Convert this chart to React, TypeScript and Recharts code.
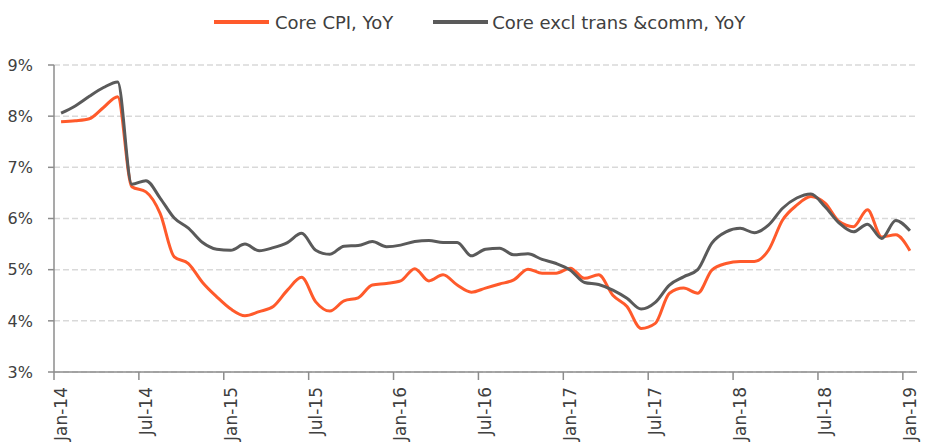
import React from "react";
import { LineChart, Line, XAxis, YAxis, CartesianGrid, Legend } from "recharts";

// monthly, Jan-14 .. Jan-19
const coreCpi = [
  7.89, 7.91, 7.95, 8.17, 8.38, 6.62, 6.52, 6.1, 5.25, 5.12,
  4.75, 4.47, 4.23, 4.1, 4.18, 4.28, 4.6, 4.85, 4.37, 4.19,
  4.39, 4.45, 4.7, 4.73, 4.78, 5.02, 4.78, 4.9, 4.7, 4.56,
  4.64, 4.72, 4.8, 5.01, 4.93, 4.93, 5.03, 4.83, 4.9, 4.5,
  4.28, 3.85, 3.95, 4.54, 4.64, 4.54, 4.99, 5.12, 5.16, 5.16,
  5.38, 5.97, 6.26, 6.43, 6.3, 5.94, 5.84, 6.17, 5.64, 5.68,
  5.37,
];
const coreExTransComm = [
  8.06, 8.2, 8.39, 8.56, 8.67, 6.67, 6.74, 6.4, 6.01, 5.81,
  5.53, 5.4, 5.38, 5.5, 5.37, 5.43, 5.53, 5.71, 5.38, 5.3,
  5.46, 5.47, 5.55, 5.45, 5.48, 5.55, 5.57, 5.53, 5.53, 5.27,
  5.4, 5.42, 5.29, 5.31, 5.2, 5.12, 4.99, 4.75, 4.71, 4.6,
  4.44, 4.23, 4.36, 4.7, 4.86, 5.0, 5.52, 5.74, 5.81, 5.72,
  5.87, 6.2, 6.4, 6.48, 6.23, 5.91, 5.74, 5.89, 5.61, 5.96,
  5.76,
];
const tickLabels = [
  "Jan-14", "Jul-14", "Jan-15", "Jul-15", "Jan-16", "Jul-16",
  "Jan-17", "Jul-17", "Jan-18", "Jul-18", "Jan-19",
];
const yTicks = [3, 4, 5, 6, 7, 8, 9];

const ORANGE = "#FF5A2B";
const GREY = "#5A5A5A";
const FONT = "DejaVu Sans";

// each month sits in the middle of its slot, ticks on slot boundaries
const data = coreCpi.map((v, i) => ({
  t: i + 0.5,
  cpi: v,
  ex: coreExTransComm[i],
}));
const xTicks = tickLabels.map((_, i) => i * 6);

const XTick = (props: any) => {
  const { x, y, payload } = props;
  return (
    <g transform={`translate(${x + 7},${y + 2})`}>
      <text
        transform="rotate(-90)"
        textAnchor="end"
        dy="0.35em"
        fontSize={17}
        fontFamily={FONT}
        fill="#404040"
      >
        {tickLabels[payload.value / 6]}
      </text>
    </g>
  );
};

const LegendBox = () => (
  <div
    style={{
      display: "flex",
      alignItems: "center",
      paddingLeft: 214,
      height: 44,
      fontFamily: FONT,
      fontSize: 18,
      color: "#404040",
      whiteSpace: "nowrap",
    }}
  >
    <span style={{ width: 55, height: 4, background: ORANGE, marginRight: 6 }} />
    <span style={{ marginRight: 40 }}>Core CPI, YoY</span>
    <span style={{ width: 55, height: 4, background: GREY, marginRight: 4 }} />
    <span>Core excl trans &amp;comm, YoY</span>
  </div>
);

export default function App() {
  return (
    <div style={{ position: "absolute", left: 0, top: 0 }}>
      <LineChart
        width={930}
        height={445}
        data={data}
        margin={{ top: 0, right: 13, bottom: 0, left: 0 }}
      >
        <Legend
          verticalAlign="top"
          content={() => <LegendBox />}
          wrapperStyle={{ height: 65 }}
        />
        <CartesianGrid
          vertical={false}
          stroke="#D9D9D9"
          strokeDasharray="6 3"
          strokeWidth={1.5}
        />
        <XAxis
          type="number"
          dataKey="t"
          domain={[0, 61]}
          ticks={xTicks}
          interval={0}
          height={73}
          tickSize={8}
          tickMargin={5}
          stroke="#8C8C8C"
          strokeWidth={1.5}
          tick={<XTick />}
        />
        <YAxis
          domain={[3, 9]}
          ticks={yTicks}
          width={54}
          tickSize={6}
          tickMargin={15}
          stroke="#8C8C8C"
          strokeWidth={1.5}
          tickFormatter={(v: number) => `${v}%`}
          tick={{ fontSize: 16, fontFamily: FONT, fill: "#404040" }}
        />
        <Line
          type="monotone"
          dataKey="cpi"
          stroke={ORANGE}
          strokeWidth={3}
          dot={false}
          isAnimationActive={false}
        />
        <Line
          type="monotone"
          dataKey="ex"
          stroke={GREY}
          strokeWidth={3}
          dot={false}
          isAnimationActive={false}
        />
      </LineChart>
    </div>
  );
}
